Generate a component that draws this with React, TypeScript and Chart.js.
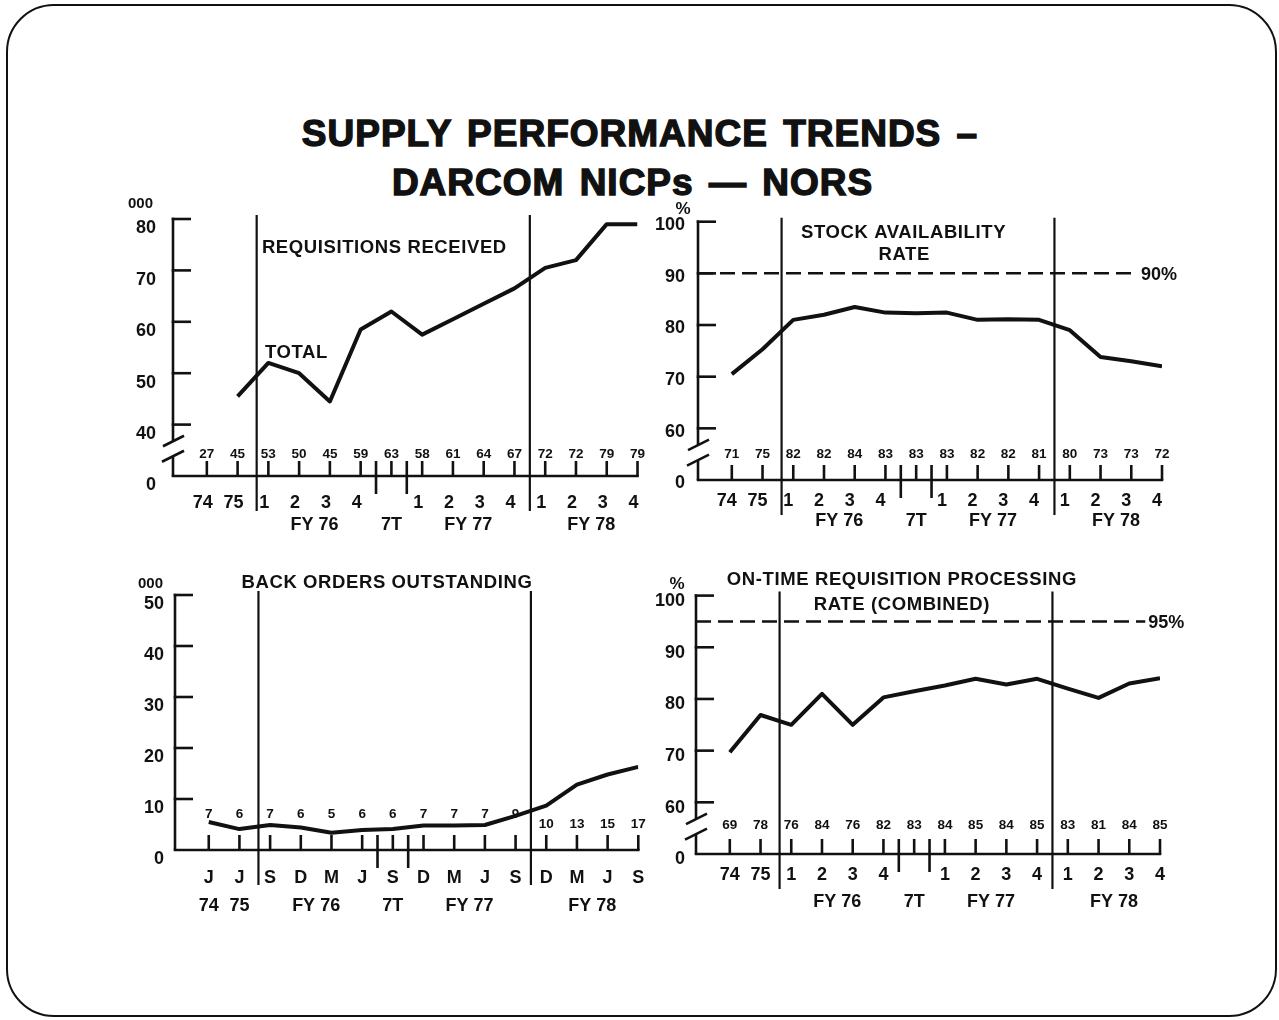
import React, { useEffect, useRef } from 'react';
import { Chart, registerables } from 'chart.js';

Chart.register(...registerables);

const FONT = '"Liberation Sans", Arial, Helvetica, sans-serif';
const INK = '#111';

// ---- shared x categories (quarters / months, FY 74 .. FY 78) ----
const quarterTicks = ['74', '75', '1', '2', '3', '4', '', '1', '2', '3', '4', '1', '2', '3', '4'];
const monthTicks = ['J', 'J', 'S', 'D', 'M', 'J', 'S', 'D', 'M', 'J', 'S', 'D', 'M', 'J', 'S'];
const fiscalGroups = [
  { label: 'FY 76', first: 2, last: 5 },
  { label: '7T', first: 6, last: 6 },
  { label: 'FY 77', first: 7, last: 10 },
  { label: 'FY 78', first: 11, last: 14 },
];
const calendarYears = [
  { label: '74', first: 0, last: 0 },
  { label: '75', first: 1, last: 1 },
];
const fyDividers = [1.62, 10.5];
const transitionBounds = [5.5, 6.5];

// ---- Requisitions received (000) ----
const reqValues = [27, 45, 53, 50, 45, 59, 63, 58, 61, 64, 67, 72, 72, 79, 79];
const reqLine = [null, 45.5, 52, 50, 44.5, 58.5, 62, 57.5, 60.5, 63.5, 66.5, 70.5, 72, 79, 79];
const reqYTicks = [40, 50, 60, 70, 80];

// ---- Stock availability rate (%) ----
const stockValues = [71, 75, 82, 82, 84, 83, 83, 83, 82, 82, 81, 80, 73, 73, 72];
const stockLine = [70.5, 75.3, 81, 82, 83.5, 82.4, 82.3, 82.4, 81, 81.1, 81, 79, 73.8, 73, 72];
const stockYTicks = [60, 70, 80, 90, 100];
const stockGoal = 90;

// ---- Back orders outstanding (000) ----
const boValues = [7, 6, 7, 6, 5, 6, 6, 7, 7, 7, 9, 10, 13, 15, 17];
const boLine = [5.5, 4.1, 4.9, 4.4, 3.4, 3.9, 4.1, 4.8, 4.8, 4.9, 6.7, 8.7, 12.8, 14.8, 16.3];
const boYTicks = [10, 20, 30, 40, 50];

// ---- On-time requisition processing rate (%) ----
const otValues = [69, 78, 76, 84, 76, 82, 83, 84, 85, 84, 85, 83, 81, 84, 85];
const otLine = [69.7, 76.9, 75, 81, 75, 80.3, 81.5, 82.6, 83.9, 82.8, 83.9, 82, 80.2, 83, 84];
const otYTicks = [60, 70, 80, 90, 100];
const otGoal = 95;

const X_MIN = -1.1;
const X_MAX = 14;

type Group = { label: string; first: number; last: number };
type Note = { text: string; x: number; y: number; align: CanvasTextAlign };
type PanelCfg = {
  key: string;
  box: { left: number; top: number; width: number; height: number };
  pad: { left: number; right: number; top: number; bottom: number };
  yMin: number;
  yMax: number;
  yTicks: number[];
  brk: boolean;
  unit: string;
  unitDx: number;
  unitDy: number;
  labels: number[];
  line: (number | null)[];
  row1: string[];
  row2: Group[];
  row1Dx: number;
  row1Dy: number;
  row2Dy: number;
  valueDy: (i: number) => number;
  yLabelGap: number;
  yLabelDy: number;
  notes: Note[];
  goal?: { value: number; end: number; label: string };
};

const panels: PanelCfg[] = [
  {
    key: 'req',
    box: { left: 120, top: 185, width: 530, height: 355 },
    pad: { left: 53, right: 12.5, top: 34, bottom: 64 },
    yMin: 30,
    yMax: 80,
    yTicks: reqYTicks,
    brk: true,
    unit: '000',
    unitDx: -20,
    unitDy: -16,
    labels: reqValues,
    line: reqLine,
    row1: quarterTicks,
    row2: fiscalGroups,
    row1Dx: -4,
    row1Dy: 26,
    row2Dy: 48,
    valueDy: () => -23,
    yLabelGap: 17,
    yLabelDy: 8,
    notes: [
      { text: 'REQUISITIONS RECEIVED', x: 1.79, y: 74.7, align: 'left' },
      { text: 'TOTAL', x: 1.89, y: 54.3, align: 'left' },
    ],
  },
  {
    key: 'stock',
    box: { left: 650, top: 185, width: 560, height: 355 },
    pad: { left: 48, right: 48, top: 36.7, bottom: 60 },
    yMin: 50,
    yMax: 100,
    yTicks: stockYTicks,
    brk: true,
    unit: '%',
    unitDx: -15,
    unitDy: -14,
    labels: stockValues,
    line: stockLine,
    row1: quarterTicks,
    row2: fiscalGroups,
    row1Dx: -5,
    row1Dy: 20,
    row2Dy: 40,
    valueDy: () => -27,
    yLabelGap: 13,
    yLabelDy: 2,
    notes: [
      { text: 'STOCK AVAILABILITY', x: 5.58, y: 98.1, align: 'center' },
      { text: 'RATE', x: 5.6, y: 93.9, align: 'center' },
    ],
    goal: { value: stockGoal, end: 13.22, label: '90%' },
  },
  {
    key: 'bo',
    box: { left: 120, top: 555, width: 530, height: 365 },
    pad: { left: 55, right: 11.7, top: 40, bottom: 70 },
    yMin: 0,
    yMax: 50,
    yTicks: boYTicks,
    brk: false,
    unit: '000',
    unitDx: -12,
    unitDy: -12,
    labels: boValues,
    line: boLine,
    row1: monthTicks,
    row2: [...calendarYears, ...fiscalGroups],
    row1Dx: 0,
    row1Dy: 27,
    row2Dy: 55,
    valueDy: (i: number) => (i >= 11 ? -27 : -37),
    yLabelGap: 11,
    yLabelDy: 8,
    notes: [{ text: 'BACK ORDERS OUTSTANDING', x: 5.8, y: 52.6, align: 'center' }],
  },
  {
    key: 'ontime',
    box: { left: 650, top: 555, width: 560, height: 365 },
    pad: { left: 46, right: 50, top: 40.6, bottom: 66 },
    yMin: 50,
    yMax: 100,
    yTicks: otYTicks,
    brk: true,
    unit: '%',
    unitDx: -19,
    unitDy: -13,
    labels: otValues,
    line: otLine,
    row1: quarterTicks,
    row2: fiscalGroups,
    row1Dx: 0,
    row1Dy: 20,
    row2Dy: 47,
    valueDy: () => -30,
    yLabelGap: 11,
    yLabelDy: 4,
    notes: [
      { text: 'ON-TIME REQUISITION PROCESSING', x: 5.59, y: 103.3, align: 'center' },
      { text: 'RATE (COMBINED)', x: 5.59, y: 98.5, align: 'center' },
    ],
    goal: { value: otGoal, end: 13.52, label: '95%' },
  },
];

function makeDecor(p: PanelCfg) {
  return {
    id: 'decor-' + p.key,
    afterDatasetsDraw(chart: any) {
      const ctx: CanvasRenderingContext2D = chart.ctx;
      const xs = chart.scales.x;
      const ys = chart.scales.y;
      const { left: ax, right, top, bottom } = chart.chartArea;
      const X = (v: number) => xs.getPixelForValue(v);
      const Y = (v: number) => ys.getPixelForValue(v);
      const AX = 2.6;
      ctx.save();
      ctx.strokeStyle = INK;
      ctx.fillStyle = INK;
      ctx.lineCap = 'butt';
      const seg = (x1: number, y1: number, x2: number, y2: number, w: number) => {
        ctx.lineWidth = w;
        ctx.beginPath();
        ctx.moveTo(x1, y1);
        ctx.lineTo(x2, y2);
        ctx.stroke();
      };
      const txt = (s: string, x: number, y: number, size: number, align: CanvasTextAlign, spacing = 0) => {
        ctx.font = `bold ${size}px ${FONT}`;
        ctx.textAlign = align;
        ctx.textBaseline = 'alphabetic';
        (ctx as any).letterSpacing = spacing + 'px';
        const shift = align === 'center' ? spacing / 2 : 0;
        ctx.fillText(s, x + shift, y + 0.358 * size);
      };

      // y axis (with scale break)
      const yTop = Y(p.yMax);
      if (p.brk) {
        const yf = Y(p.yTicks[0]);
        const yb = yf + 0.48 * (bottom - yf);
        seg(ax, yTop - 1.3, ax, yb - 8, AX);
        seg(ax, yb + 7, ax, bottom, AX);
        seg(ax - 10, yb - 3, ax + 11, yb - 13.5, AX);
        seg(ax - 11, yb + 12.5, ax + 11, yb + 1.5, AX);
      } else {
        seg(ax, yTop - 1.3, ax, bottom, AX);
      }
      p.yTicks.forEach((v) => seg(ax - 1.3, Y(v), ax + 18, Y(v), AX));
      p.yTicks.forEach((v) => txt(String(v), ax - p.yLabelGap, Y(v) + p.yLabelDy, 18, 'right'));
      txt('0', ax - p.yLabelGap, bottom + p.yLabelDy, 18, 'right');
      txt(p.unit, ax + p.unitDx, top + p.unitDy, p.unit === '%' ? 17 : 15, p.unit === '%' ? 'center' : 'right');

      // x axis
      seg(ax - 1.3, bottom, right + 1.3, bottom, AX);
      p.labels.forEach((_, i) => seg(X(i), bottom, X(i), bottom - 15, AX));
      transitionBounds.forEach((b) => seg(X(b), bottom - 15, X(b), bottom + 18, AX));
      fyDividers.forEach((d) => seg(X(d), top - 4, X(d), bottom + 35, 2.2));

      // value labels above the ticks
      p.labels.forEach((v, i) => txt(String(v), X(i), bottom + p.valueDy(i), 13.5, 'center'));
      // category labels
      p.row1.forEach((s, i) => {
        if (s) txt(s, X(i) + p.row1Dx, bottom + p.row1Dy, 18, 'center');
      });
      p.row2.forEach((g) => txt(g.label, X((g.first + g.last) / 2), bottom + p.row2Dy, 18, 'center'));

      // annotations
      p.notes.forEach((n) => txt(n.text, X(n.x), Y(n.y), 18.5, n.align, 0.6));
      if (p.goal) txt(p.goal.label, X(p.goal.end) + 3, Y(p.goal.value), 18, 'left');
      ctx.restore();
    },
  };
}

function PanelChart({ p }: { p: PanelCfg }) {
  const ref = useRef<HTMLCanvasElement>(null);
  useEffect(() => {
    const datasets: any[] = [
      {
        data: p.line.map((v, i) => ({ x: i, y: v })),
        borderColor: INK,
        borderWidth: 4,
        pointRadius: 0,
        fill: false,
        tension: 0,
        spanGaps: false,
        borderJoinStyle: 'round',
        borderCapStyle: 'butt',
      },
    ];
    if (p.goal) {
      datasets.push({
        data: [
          { x: X_MIN, y: p.goal.value },
          { x: p.goal.end, y: p.goal.value },
        ],
        borderColor: INK,
        borderWidth: 2.5,
        borderDash: [15, 7],
        pointRadius: 0,
        fill: false,
      });
    }
    const chart = new Chart(ref.current as HTMLCanvasElement, {
      type: 'line',
      data: { datasets },
      options: {
        animation: false,
        responsive: false,
        devicePixelRatio: 1,
        events: [],
        layout: { padding: p.pad },
        plugins: { legend: { display: false }, tooltip: { enabled: false }, title: { display: false } },
        scales: {
          x: { type: 'linear', min: X_MIN, max: X_MAX, display: false },
          y: { type: 'linear', min: p.yMin, max: p.yMax, display: false },
        },
      } as any,
      plugins: [makeDecor(p)],
    });
    return () => chart.destroy();
  }, [p]);
  return (
    <canvas
      ref={ref}
      width={p.box.width}
      height={p.box.height}
      style={{ position: 'absolute', left: p.box.left, top: p.box.top, width: p.box.width, height: p.box.height }}
    />
  );
}

export default function App() {
  const titleStyle: React.CSSProperties = {
    position: 'absolute',
    left: 0,
    width: 1280,
    textAlign: 'center',
    fontFamily: FONT,
    fontWeight: 700,
    fontSize: 37,
    lineHeight: '37px',
    letterSpacing: '1px',
    wordSpacing: '4px',
    color: INK,
    WebkitTextStroke: '1.4px #111',
    whiteSpace: 'nowrap',
  } as React.CSSProperties;
  return (
    <div style={{ position: 'absolute', left: 0, top: 0, width: 1279, height: 1020, background: '#fff', overflow: 'hidden' }}>
      <div
        style={{
          position: 'absolute',
          left: 6,
          top: 4,
          width: 1271,
          height: 1013,
          boxSizing: 'border-box',
          border: '2.5px solid #111',
          borderRadius: 48,
        }}
      />
      <div style={{ ...titleStyle, top: 115 }}>SUPPLY PERFORMANCE TRENDS –</div>
      <div style={{ ...titleStyle, top: 164, width: 1265 }}>DARCOM NICPs — NORS</div>
      {panels.map((p) => (
        <PanelChart key={p.key} p={p} />
      ))}
    </div>
  );
}
